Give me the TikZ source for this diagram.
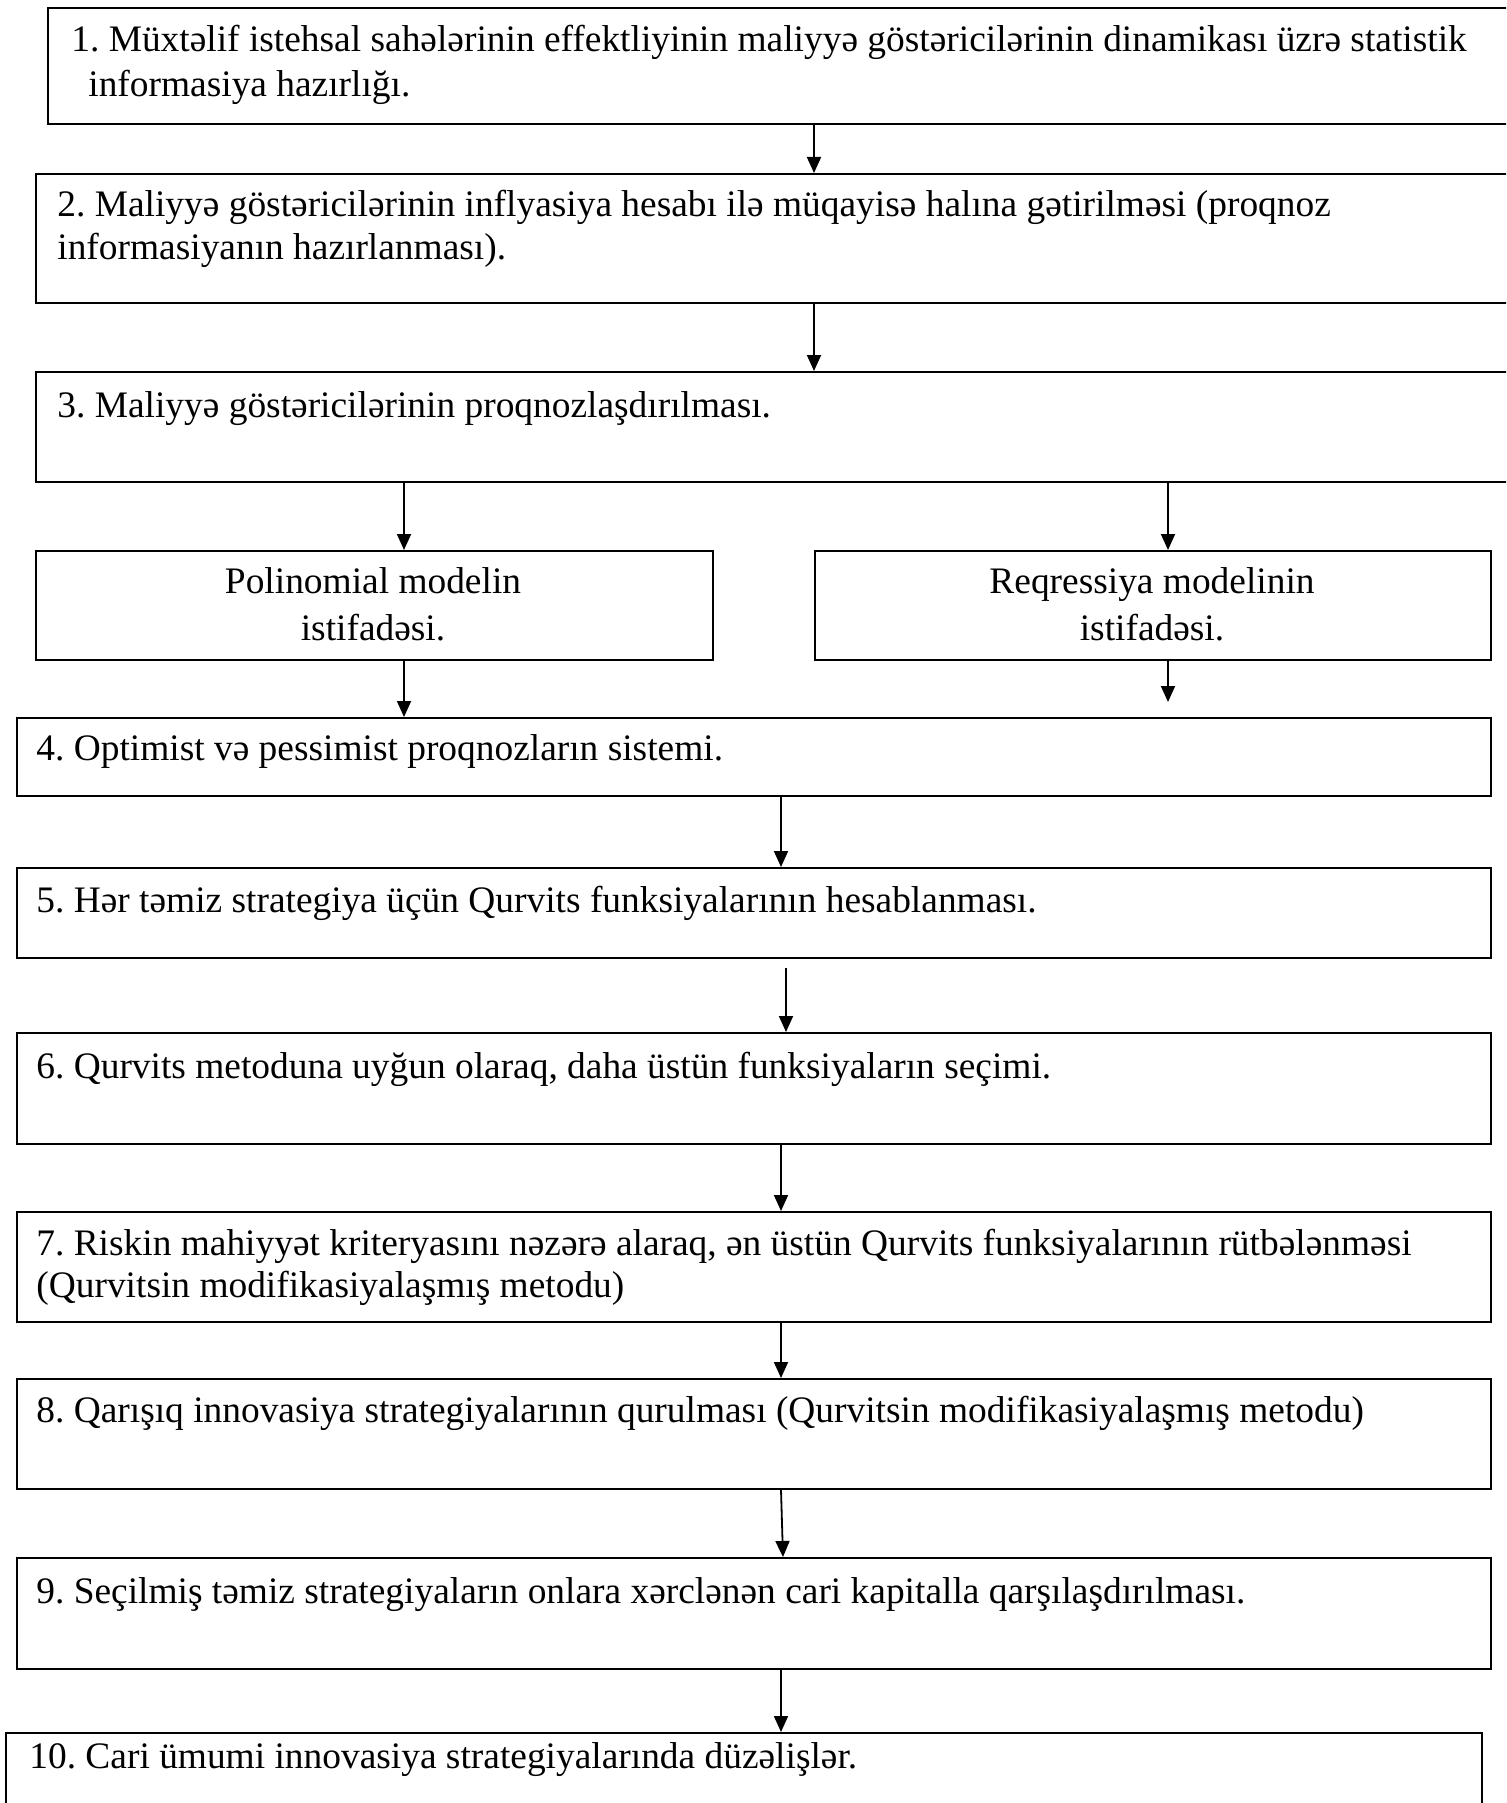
\documentclass[tikz,border=0pt]{standalone}
\usepackage{fontspec}
\setmainfont{Liberation Serif}
\usetikzlibrary{arrows.meta}
\frenchspacing
\begin{document}
\begin{tikzpicture}[x=0.5pt,y=-0.5pt,
  box/.style 2 args={draw=black, line width=1pt, anchor=north west, inner sep=0pt,
    minimum width=0.5*#1pt, minimum height=0.5*#2pt},
  txt/.style={anchor=base west, inner sep=0pt, font=\fontsize{18.7pt}{22pt}\selectfont},
  ctxt/.style={anchor=base, inner sep=0pt, font=\fontsize{18.7pt}{22pt}\selectfont},
  arr/.style={line width=0.9pt, -{Triangle[length=8pt,width=7pt]}}]
\useasboundingbox (0,0) rectangle (1506,1803);
\clip (0,0) rectangle (1506,1803);
% boxes
\node[box={1473}{116}] (b1) at (47,7) {};
\node[box={1485}{129}] (b2) at (35,173) {};
\node[box={1485}{110}] (b3) at (35,371) {};
\node[box={677}{109}] (bp) at (35,550) {};
\node[box={676}{109}] (br) at (814,550) {};
\node[box={1474}{78}] (b4) at (16,717) {};
\node[box={1474}{90}] (b5) at (16,867) {};
\node[box={1474}{111}] (b6) at (16,1032) {};
\node[box={1474}{110}] (b7) at (16,1211) {};
\node[box={1474}{110}] (b8) at (16,1378) {};
\node[box={1474}{111}] (b9) at (16,1557) {};
\node[box={1476}{100}] (b10) at (5,1732) {};
% texts
\node[txt] (t1a) at (71,52) {1. Müxtəlif istehsal sahələrinin effektliyinin maliyyə göstəricilərinin dinamikası üzrə statistik};
\node[txt] (t1b) at (88,97) {informasiya hazırlığı.};
\node[txt] (t2a) at (57,217) {2. Maliyyə göstəricilərinin inflyasiya hesabı ilə müqayisə halına gətirilməsi (proqnoz};
\node[txt] (t2b) at (57,260) {informasiyanın hazırlanması).};
\node[txt] (t3) at (57,417) {3. Maliyyə göstəricilərinin proqnozlaşdırılması.};
\node[ctxt] (tpa) at (373,593) {Polinomial modelin};
\node[ctxt] (tpb) at (373,640) {istifadəsi.};
\node[ctxt] (tra) at (1152,593) {Reqressiya modelinin};
\node[ctxt] (trb) at (1152,640) {istifadəsi.};
\node[txt] (t4) at (36,760) {4. Optimist və pessimist proqnozların sistemi.};
\node[txt] (t5) at (36,912) {5. Hər təmiz strategiya üçün Qurvits funksiyalarının hesablanması.};
\node[txt] (t6) at (36,1078) {6. Qurvits metoduna uyğun olaraq, daha üstün funksiyaların seçimi.};
\node[txt] (t7a) at (36,1255) {7. Riskin mahiyyət kriteryasını nəzərə alaraq, ən üstün Qurvits funksiyalarının rütbələnməsi};
\node[txt] (t7b) at (36,1297) {(Qurvitsin modifikasiyalaşmış metodu)};
\node[txt] (t8) at (36,1422) {8. Qarışıq innovasiya strategiyalarının qurulması (Qurvitsin modifikasiyalaşmış metodu)};
\node[txt] (t9) at (36,1603) {9. Seçilmiş təmiz strategiyaların onlara xərclənən cari kapitalla qarşılaşdırılması.};
\node[txt] (t10) at (29,1768) {10. Cari ümumi innovasiya strategiyalarında düzəlişlər.};
% x positions
\coordinate (xa) at (814,0);
\coordinate (xp) at (404,0);
\coordinate (xr) at (1168,0);
\coordinate (xm) at (781,0);
\coordinate (xm2) at (783,0);
\coordinate (g5) at (786,968);
\coordinate (xg) at (786,0);
\coordinate (rend) at (1168,702);
% arrows
\draw[arr] (b1.south -| xa) -- (b2.north -| xa);
\draw[arr] (b2.south -| xa) -- (b3.north -| xa);
\draw[arr] (b3.south -| xp) -- (bp.north -| xp);
\draw[arr] (b3.south -| xr) -- (br.north -| xr);
\draw[arr] (bp.south -| xp) -- (b4.north -| xp);
\draw[arr] (br.south -| xr) -- (rend);
\draw[arr] (b4.south -| xm) -- (b5.north -| xm);
\draw[arr] (g5) -- (b6.north -| xg);
\draw[arr] (b6.south -| xm) -- (b7.north -| xm);
\draw[arr] (b7.south -| xm) -- (b8.north -| xm);
\draw[arr] (b8.south -| xm) -- (b9.north -| xm2);
\draw[arr] (b9.south -| xm) -- (b10.north -| xm);
\end{tikzpicture}
\end{document}
